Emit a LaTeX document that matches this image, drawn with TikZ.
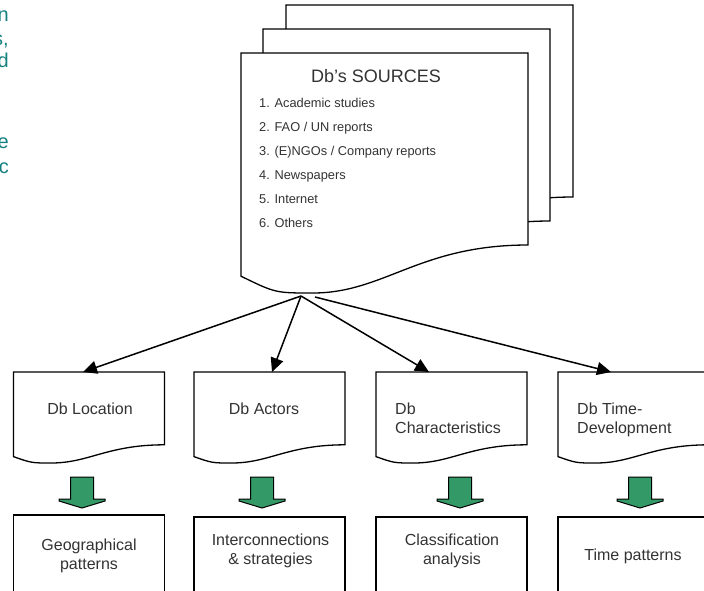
\documentclass[tikz,border=0pt]{standalone}
\usepackage{fontspec}
\setmainfont{Liberation Sans}
\usepackage{tikz}
\usetikzlibrary{calc}
\usetikzlibrary{arrows.meta}

\definecolor{txtgray}{RGB}{51,51,51}
\definecolor{sidenote}{RGB}{20,128,128}
\definecolor{blockgreen}{RGB}{51,153,102}

\tikzset{
  page/.style={draw, line width=1.3pt, fill=white},
  boxtext/.style={inner sep=0pt, text=txtgray, font=\fontsize{16}{19.5}\selectfont},
  listtext/.style={inner sep=0pt, text=txtgray, font=\fontsize{12.8}{15}\selectfont, anchor=base west},
  link/.style={line width=1.5pt, -{Triangle[length=14pt,width=13pt]}},
  blockarrow/.style={draw, line width=1pt, fill=blockgreen}
}

% page with a wavy foot: left, top, width, height
\newcommand{\docpage}[4]{
  \draw[page] (#1,#2) -- ({#1+#3},#2) -- ({#1+#3},{#2+0.8*#4})
    .. controls ({#1+0.62*#3},{#2+0.8*#4}) and ({#1+0.5*#3},{#2+#4}) .. ({#1+0.25*#3},{#2+#4})
    .. controls ({#1+0.12*#3},{#2+#4}) .. (#1,{#2+0.93*#4}) -- cycle;
}

\begin{document}
\begin{tikzpicture}[x=1pt, y=-1pt]
  \useasboundingbox (0,0) rectangle (704,590);
  \clip (0,0) rectangle (704,590);

  % cut-off side note
  \foreach \t/\y [count=\i] in {n/21, {s,}/45, d/67, e/148, c/173} {
    \node[inner sep=0pt, anchor=base east, text=sidenote, font=\fontsize{20}{24}\selectfont] (note-\i) at (9,\y) {\t};
  }

  % stack of source pages
  \docpage{286}{5}{287}{240}
  \docpage{263}{29}{287}{240}
  \docpage{241}{53}{287}{240}
  \node[inner sep=0pt, anchor=base, text=txtgray, font=\fontsize{18}{21}\selectfont] (src) at (376,82) {Db’s SOURCES};
  \foreach \t [count=\i] in {Academic studies, FAO / UN reports, {(E)NGOs / Company reports}, Newspapers, Internet, Others} {
    \node[listtext] (src-\i) at (259,{83+24*\i}) {\i. \t};
  }

  % the four data pages
  \foreach \x in {13.5,194,376,558} {
    \docpage{\x}{372}{151}{91}
  }
  \node[boxtext, anchor=base] (loc) at (90,414) {Db Location};
  \node[boxtext, anchor=base] (act) at (264,414) {Db Actors};
  \node[boxtext, anchor=north west, align=left] (cha) at (395,402.3) {Db\\Characteristics};
  \node[boxtext, anchor=north west, align=left] (tim) at (577,402.3) {Db Time-\\Development};

  % arrows out of the sources
  \coordinate (src-foot) at (301,296);
  \coordinate (src-foot2) at (315,297);
  \coordinate (loc-top) at (83,372);
  \coordinate (act-top) at (272,372);
  \coordinate (cha-top) at (429,372);
  \coordinate (tim-top) at (611,372);
  \draw[link] (src-foot) -- (loc-top);
  \draw[link] (src-foot) -- (act-top);
  \draw[link] (src-foot) -- (cha-top);
  \draw[link] (src-foot2) -- (tim-top);

  % green block arrows
  \foreach \x in {82,262,460,640} {
    \draw[blockarrow] ({\x-11.5},477) -- ({\x+11.5},477) -- ({\x+11.5},499) -- ({\x+23},499)
      -- ({\x+23},501) -- (\x,508) -- ({\x-23},501) -- ({\x-23},499) -- ({\x-11.5},499) -- cycle;
  }

  % results
  \draw[page] (13.5,515) rectangle ++(151,100);
  \foreach \x in {194,376,558} {
    \draw[page] (\x,517) rectangle ++(151,100);
  }
  \node[boxtext, anchor=north, align=center] (geo) at (89,538.3) {Geographical\\patterns};
  \node[boxtext, anchor=north, align=center] (int) at (270.5,533.3) {Interconnections\\\& strategies};
  \node[boxtext, anchor=north, align=center] (cla) at (452,533.3) {Classification\\analysis};
  \node[boxtext, anchor=base] (tpat) at (633,560) {Time patterns};
\end{tikzpicture}
\end{document}
